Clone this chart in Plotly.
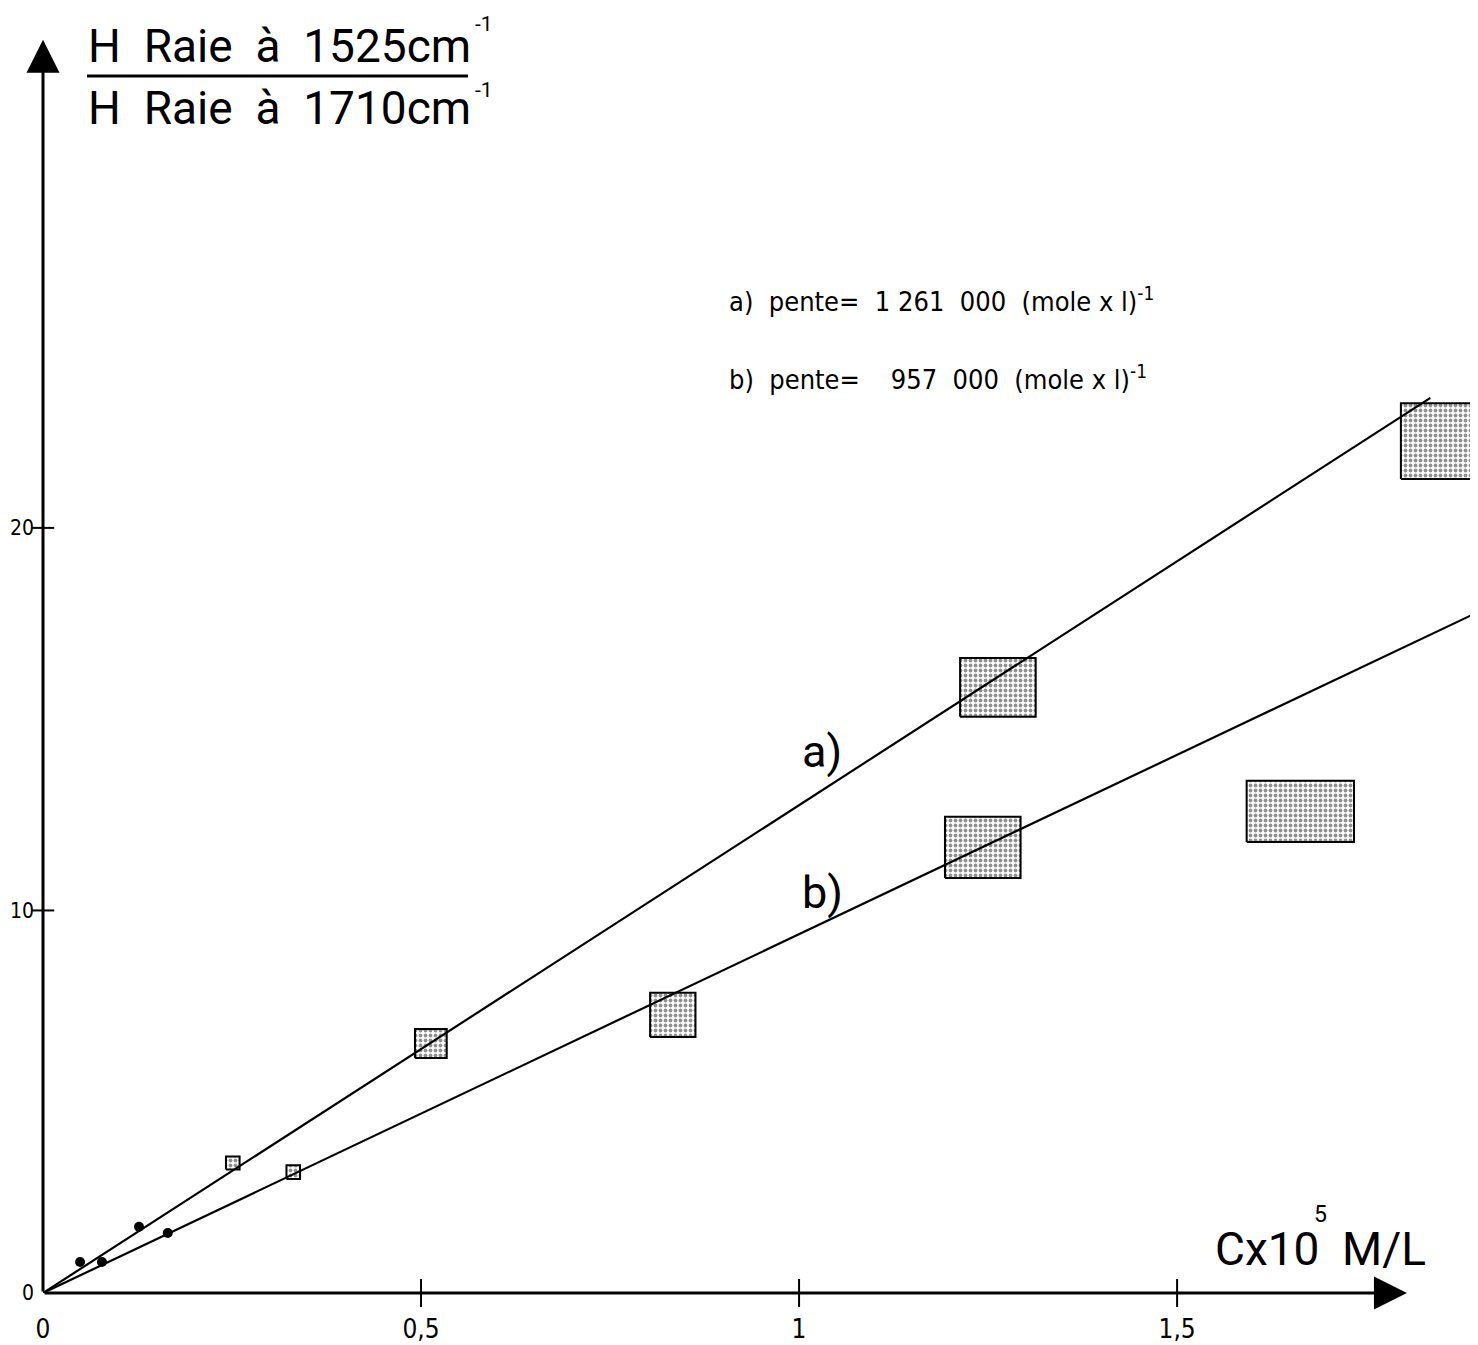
import plotly.graph_objects as go

# ---------------- data ----------------
# series a) : centre, half-width (x) and half-height (y) of each uncertainty box
a_x  = [0.049, 0.127, 0.251, 0.513, 1.263, 1.847]
a_y  = [0.81, 1.73, 3.40, 6.52, 15.83, 22.27]
a_dx = [0.0, 0.0, 0.009, 0.021, 0.050, 0.051]
a_dy = [0.0, 0.0, 0.17, 0.38, 0.77, 0.99]

# series b)
b_x  = [0.078, 0.165, 0.331, 0.833, 1.243, 1.663]
b_y  = [0.81, 1.57, 3.16, 7.27, 11.65, 12.59]
b_dx = [0.0, 0.0, 0.009, 0.030, 0.050, 0.071]
b_dy = [0.0, 0.0, 0.18, 0.58, 0.80, 0.80]

# fitted straight lines (end points)
fit_a_x = [0.0, 1.835]
fit_a_y = [0.0, 23.40]
fit_b_x = [0.0, 1.898]
fit_b_y = [0.0, 17.80]

x_ticks = [0, 0.5, 1, 1.5]
x_tick_text = ["0", "0,5", "1", "1,5"]
y_ticks = [0, 10, 20]
y_tick_text = ["0", "10", "20"]

X_MAX, Y_MAX = 1.898, 33.59
X_ARROW, Y_ARROW = 1.804, 32.76

BIG = "Roboto, DejaVu Sans, sans-serif"
SMALL = "DejaVu Sans Condensed, DejaVu Sans, sans-serif"

OFF = 8                      # page body margin of the html page
W, H = 1478 - OFF, 1345 - OFF
ML, MB = 43 - OFF, 52
PW, PH = W - ML, H - MB


def px(xp):                  # screen pixel -> paper fraction
    return (xp - OFF - ML) / PW


def py(yp):
    return (PH - (yp - OFF)) / PH


fig = go.Figure()


def add_series(xs, ys, dxs, dys):
    dots_x, dots_y = [], []
    for cx, cy, dx, dy in zip(xs, ys, dxs, dys):
        if dx == 0:
            dots_x.append(cx)
            dots_y.append(cy)
            continue
        fig.add_trace(go.Scatter(
            x=[cx - dx, cx + dx, cx + dx, cx - dx, cx - dx],
            y=[cy - dy, cy - dy, cy + dy, cy + dy, cy - dy],
            mode="lines", fill="toself",
            fillcolor="#c8c8c8",
            fillpattern=dict(shape=".", fgcolor="#222222", bgcolor="#ffffff",
                             size=5, solidity=0.45),
            line=dict(color="black", width=2),
            hoverinfo="skip", showlegend=False, cliponaxis=False))
    fig.add_trace(go.Scatter(
        x=dots_x, y=dots_y, mode="markers",
        marker=dict(color="black", size=10, symbol="circle"),
        showlegend=False, cliponaxis=False))


add_series(a_x, a_y, a_dx, a_dy)
add_series(b_x, b_y, b_dx, b_dy)

fig.add_trace(go.Scatter(x=fit_a_x, y=fit_a_y, mode="lines",
                         line=dict(color="black", width=2.2), showlegend=False))
fig.add_trace(go.Scatter(x=fit_b_x, y=fit_b_y, mode="lines",
                         line=dict(color="black", width=2.2), showlegend=False))

# tick marks crossing the axes
fig.add_trace(go.Scatter(
    x=x_ticks[1:], y=[0] * (len(x_ticks) - 1), mode="markers",
    marker=dict(symbol="line-ns", size=20, line=dict(color="black", width=2)),
    showlegend=False, cliponaxis=False))
fig.add_trace(go.Scatter(
    x=[0] * (len(y_ticks) - 1), y=y_ticks[1:], mode="markers",
    marker=dict(symbol="line-ew", size=16, line=dict(color="black", width=2)),
    showlegend=False, cliponaxis=False))

annotations = []
# axes with arrows
annotations.append(dict(x=X_ARROW, y=0, ax=0, ay=0, xref="x", yref="y",
                        axref="x", ayref="y", showarrow=True, arrowhead=2,
                        arrowsize=2.2, arrowwidth=3, arrowcolor="black", text=""))
annotations.append(dict(x=0, y=Y_ARROW, ax=0, ay=0, xref="x", yref="y",
                        axref="x", ayref="y", showarrow=True, arrowhead=2,
                        arrowsize=2.2, arrowwidth=3, arrowcolor="black", text=""))


def txt(text, xp, yp, size, family=BIG, xanchor="left", yanchor="middle"):
    annotations.append(dict(text=text, x=px(xp), y=py(yp), xref="paper",
                            yref="paper", showarrow=False, xanchor=xanchor,
                            yanchor=yanchor,
                            font=dict(family=family, size=size, color="black")))


# y-axis title (ratio)
txt("H\u00a0 Raie\u00a0 à\u00a0 1525cm", 86, 46, 46)
txt("H\u00a0 Raie\u00a0 à\u00a0 1710cm", 86, 108, 46)
txt("-1", 473, 24, 21)
txt("-1", 473, 90, 21)

# x-axis title
txt("Cx10", 1213, 1249, 46)
txt("5", 1320, 1214, 23, xanchor="center")
txt("M/L", 1428, 1249, 46, xanchor="right")

# slopes
txt("a)\u00a0 pente=\u00a0 1\u00a0261\u00a0 000\u00a0 (mole x l)<sup>-1</sup>", 727, 300, 27, SMALL)
txt("b)\u00a0 pente=\u00a0\u00a0\u00a0 957\u00a0 000\u00a0 (mole x l)<sup>-1</sup>", 727, 377, 27, SMALL)

# curve labels
txt("a)", 800, 752, 45)
txt("b)", 800, 892, 45)

fig.update_layout(
    width=W, height=H,
    margin=dict(l=ML, r=0, t=0, b=MB, autoexpand=False),
    paper_bgcolor="white", plot_bgcolor="white",
    showlegend=False,
    annotations=annotations,
    shapes=[dict(type="line", xref="paper", yref="paper",
                 x0=px(87), x1=px(468), y0=py(76), y1=py(76),
                 line=dict(color="black", width=3))],
    xaxis=dict(range=[0, X_MAX], showgrid=False, zeroline=False,
               showline=False, ticks="", tickvals=x_ticks, automargin=False,
               ticktext=x_tick_text, ticklabelstandoff=18,
               tickfont=dict(family=SMALL, size=26, color="black")),
    yaxis=dict(range=[0, Y_MAX], showgrid=False, zeroline=False,
               showline=False, ticks="", tickvals=y_ticks, automargin=False,
               ticktext=y_tick_text, ticklabelstandoff=8,
               tickfont=dict(family=SMALL, size=21, color="black")),
)

fig.write_html("out.html")
